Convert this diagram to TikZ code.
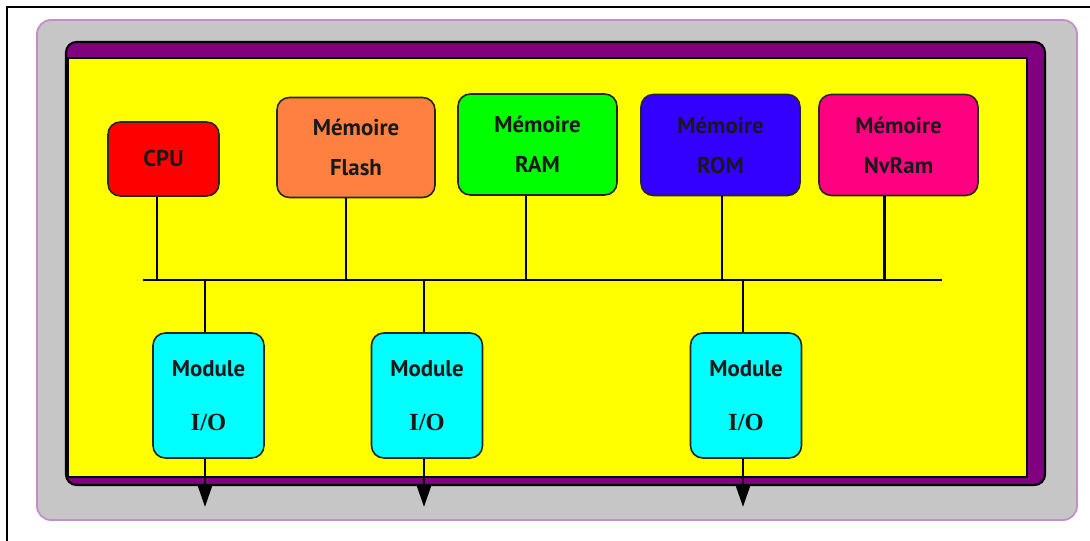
\documentclass[tikz,border=0pt]{standalone}
\usepackage{fontspec}
\setmainfont{PT Sans}
\newfontfamily\iofont{Liberation Serif}
\usetikzlibrary{arrows.meta}
\definecolor{panelgray}{HTML}{C6C6C6}
\definecolor{panelrim}{HTML}{C48CC8}
\definecolor{framepurple}{HTML}{800080}
\definecolor{boardyellow}{HTML}{FFFF00}
\definecolor{cpured}{HTML}{FF0000}
\definecolor{flashorange}{HTML}{FF8040}
\definecolor{ramgreen}{HTML}{00FF00}
\definecolor{romblue}{HTML}{3300FF}
\definecolor{nvrampink}{HTML}{FF0080}
\definecolor{iocyan}{HTML}{00FFFF}

\begin{document}
\begin{tikzpicture}[
   x=0.02cm, y=-0.02cm,
   unit/.style={draw=black!85, line width=0.9pt, rounded corners=7pt,
      inner sep=0pt, align=center, text=black!90,
      font=\bfseries\fontsize{13}{22.8}\selectfont},
   memory/.style={unit, minimum width=3.18cm, minimum height=2.02cm},
   iomodule/.style={unit, fill=iocyan, minimum width=2.22cm,
      minimum height=2.5cm, font=\bfseries\fontsize{13}{31}\selectfont},
   wire/.style={line width=1.7pt},
   buswire/.style={line width=1.4pt},
   outarrow/.style={wire, -{Triangle[width=0.3cm, length=0.46cm]}}
]
\useasboundingbox (0,0) rectangle (1090,541);
% page frame and board
\draw[line width=1.2pt] (7,541) -- (7,7) -- (1090,7);
\draw[fill=panelgray, draw=panelrim, line width=1pt, rounded corners=8pt]
   (37,20) rectangle (1077,520);
\draw[fill=framepurple, line width=1.2pt, rounded corners=6pt]
   (66,42) rectangle (1045,485);
\draw[fill=boardyellow, line width=1.1pt] (68,58) rectangle (1027,477);

% units on the bus
\node[unit, fill=cpured, minimum width=2.22cm, minimum height=1.48cm]
   (cpu) at (163.5,159) {CPU};
\node[memory, fill=flashorange, minimum width=3.16cm, minimum height=2cm]
   (flash) at (356,147.5) {Mémoire\\Flash};
\node[memory, fill=ramgreen] (ram) at (537.5,144.5) {Mémoire\\RAM};
\node[memory, fill=romblue] (rom) at (720.5,145) {Mémoire\\ROM};
\node[memory, fill=nvrampink] (nvram) at (898.5,145) {Mémoire\\NvRam};

\node[iomodule] (io1) at (208.5,395.5) {Module\\{\iofont\fontsize{14}{31}\selectfont I/O}};
\node[iomodule] (io2) at (427,395.5) {Module\\{\iofont\fontsize{14}{31}\selectfont I/O}};
\node[iomodule] (io3) at (746,395.5) {Module\\{\iofont\fontsize{14}{31}\selectfont I/O}};

\coordinate (busL) at (143,280);
\coordinate (busR) at (942,280);
\coordinate (exit) at (0,507);

\draw[buswire] (busL) -- (busR);
\draw[wire] ([xshift=-0.13cm]cpu.south) -- ([xshift=-0.13cm]cpu.south |- busL);
\draw[wire] ([xshift=-0.2cm]flash.south) -- ([xshift=-0.2cm]flash.south |- busL);
\draw[wire] ([xshift=-0.23cm]ram.south) -- ([xshift=-0.23cm]ram.south |- busL);
\draw[wire] ([xshift=0.03cm]rom.south) -- ([xshift=0.03cm]rom.south |- busL);
\draw[wire] ([xshift=-0.29cm]nvram.south) -- ([xshift=-0.29cm]nvram.south |- busL);
\draw[wire] ([xshift=-0.07cm]io1.north |- busL) -- ([xshift=-0.07cm]io1.north);
\draw[wire] ([xshift=-0.06cm]io2.north |- busL) -- ([xshift=-0.06cm]io2.north);
\draw[wire] ([xshift=-0.06cm]io3.north |- busL) -- ([xshift=-0.06cm]io3.north);
\draw[outarrow] ([xshift=-0.07cm]io1.south) -- ([xshift=-0.07cm]io1.south |- exit);
\draw[outarrow] ([xshift=-0.06cm]io2.south) -- ([xshift=-0.06cm]io2.south |- exit);
\draw[outarrow] ([xshift=-0.06cm]io3.south) -- ([xshift=-0.06cm]io3.south |- exit);
\end{tikzpicture}
\end{document}
